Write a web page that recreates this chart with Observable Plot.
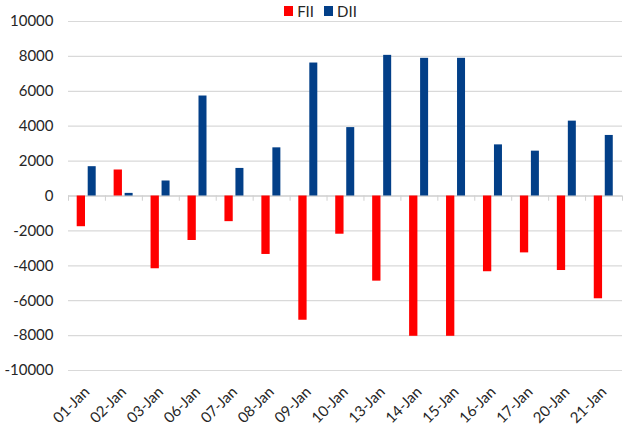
<!DOCTYPE html>
<html>
<head>
<meta charset="utf-8">
<script src="https://cdn.jsdelivr.net/npm/d3@7"></script>
<script src="https://cdn.jsdelivr.net/npm/@observablehq/plot@0.6"></script>
<style>
  body { margin: 0; background: #fff; }
  #wrap { position: relative; width: 629px; height: 433px; font-family: Lato, "Open Sans", sans-serif; color: #262626; }
  #legend { position: absolute; top: 2px; left: 0; width: 629px; display: flex; justify-content: center; gap: 10px; font-size: 15px; padding-left: 12px; box-sizing: border-box; }
  #legend span.item { display: inline-flex; align-items: center; gap: 4px; }
  #legend span.sw { display: inline-block; width: 9px; height: 10px; }
</style>
</head>
<body>
<div id="wrap"><div id="legend"></div></div>
<script>
const dates = ["01-Jan","02-Jan","03-Jan","06-Jan","07-Jan","08-Jan","09-Jan","10-Jan","13-Jan","14-Jan","15-Jan","16-Jan","17-Jan","20-Jan","21-Jan"];
const fiiValues = [-1760, 1490, -4170, -2550, -1470, -3350, -7120, -2190, -4880, -8040, -8040, -4340, -3260, -4270, -5890];
const diiValues = [1680, 150, 860, 5730, 1580, 2760, 7620, 3920, 8060, 7890, 7890, 2930, 2570, 4290, 3470];
const seriesNames = ["FII", "DII"];
const seriesColors = ["#ff0000", "#023f88"];
const yTicks = [-10000, -8000, -6000, -4000, -2000, 0, 2000, 4000, 6000, 8000, 10000];

const fiiRows = dates.map((d, i) => ({date: d, value: fiiValues[i]}));
const diiRows = dates.map((d, i) => ({date: d, value: diiValues[i]}));

const W = 629, H = 433, mL = 68, mR = 7, mT = 21, mB = 63;
const bw = (W - mL - mR) / dates.length;

const chart = Plot.plot({
  width: W, height: H,
  marginTop: mT, marginBottom: mB, marginLeft: mL, marginRight: mR,
  style: {fontFamily: "Lato, 'Open Sans', sans-serif", fontSize: "15px", color: "#262626", background: "#fff"},
  x: {domain: dates, padding: 0, round: false, label: null},
  y: {domain: [-10000, 10000], label: null},
  marks: [
    Plot.gridY(yTicks, {stroke: "#d9d9d9", strokeOpacity: 1, strokeWidth: 1.2}),
    Plot.axisY(yTicks, {tickSize: 0, tickPadding: 15, fontSize: 15, tickFormat: d => String(d), label: null}),
    Plot.axisX({tickSize: 0, tickRotate: -45, tickPadding: 19, fontSize: 15, label: null}),
    Plot.ruleY([0], {stroke: "#c8c8c8", strokeWidth: 1.2}),
    Plot.ruleX(dates, {x: d => d, y1: 0, y2: -300, dx: -bw / 2, stroke: "#d0d0d0"}),
    Plot.ruleX([dates[dates.length - 1]], {x: d => d, y1: 0, y2: -300, dx: bw / 2, stroke: "#d0d0d0"}),
    Plot.barY(fiiRows, {x: "date", y: "value", fill: seriesColors[0], insetLeft: 8.7, insetRight: bw - 17}),
    Plot.barY(diiRows, {x: "date", y: "value", fill: seriesColors[1], insetLeft: 19.7, insetRight: bw - 27.7})
  ]
});
document.getElementById("wrap").prepend(chart);

const legend = document.getElementById("legend");
seriesNames.forEach((name, i) => {
  const item = document.createElement("span");
  item.className = "item";
  const sw = document.createElement("span");
  sw.className = "sw";
  sw.style.background = seriesColors[i];
  item.appendChild(sw);
  item.appendChild(document.createTextNode(name));
  legend.appendChild(item);
});
</script>
</body>
</html>
